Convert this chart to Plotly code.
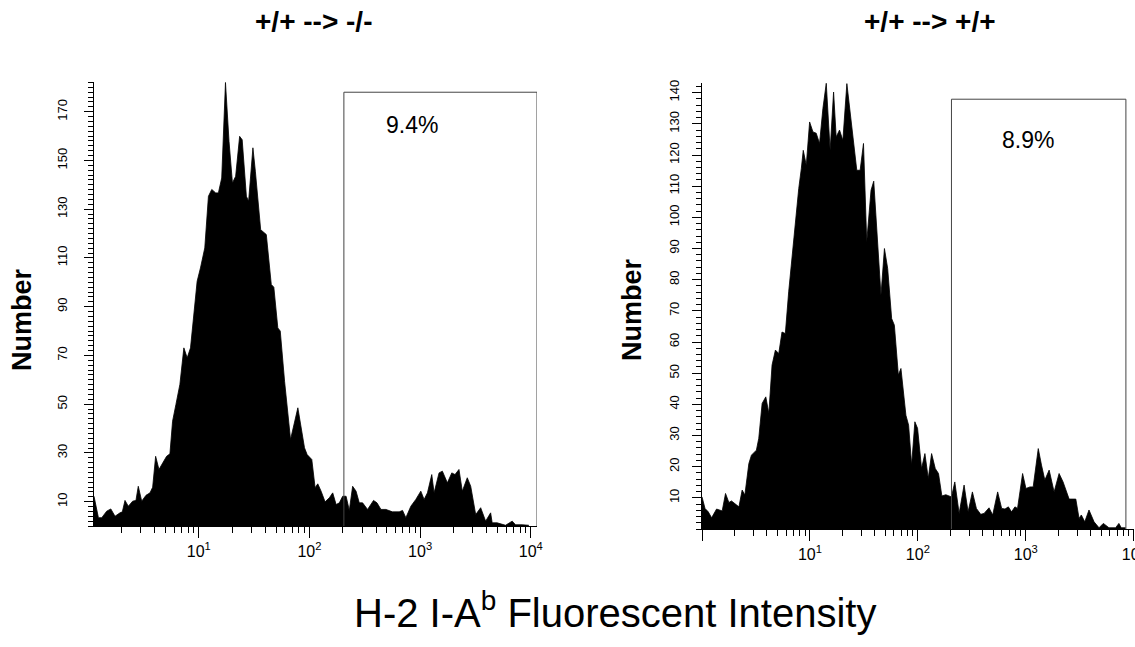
import numpy as np
import plotly.graph_objects as go

# Flow cytometry histograms: channel position (log10 of intensity) and cell count
left_log_intensity = [
    0.053, 0.093, 0.123, 0.168, 0.205, 0.243, 0.288, 0.309, 0.333, 0.363,
    0.403, 0.432, 0.453, 0.484, 0.523, 0.559, 0.583, 0.610, 0.640, 0.678,
    0.709, 0.739, 0.763, 0.793, 0.829, 0.865, 0.895, 0.925, 0.955, 0.985,
    1.015, 1.054, 1.087, 1.117, 1.153, 1.177, 1.207, 1.241, 1.273, 1.304,
    1.333, 1.369, 1.392, 1.430, 1.450, 1.489, 1.511, 1.559, 1.610, 1.655,
    1.678, 1.714, 1.736, 1.775, 1.829, 1.895, 1.955, 1.979, 2.021, 2.051,
    2.075, 2.105, 2.141, 2.180, 2.210, 2.241, 2.270, 2.300, 2.331, 2.360,
    2.390, 2.421, 2.450, 2.480, 2.525, 2.579, 2.610, 2.646, 2.691, 2.750,
    2.811, 2.841, 2.871, 2.916, 2.961, 3.006, 3.036, 3.066, 3.105, 3.126,
    3.171, 3.201, 3.246, 3.286, 3.315, 3.351, 3.381, 3.426, 3.457, 3.502,
    3.547, 3.592, 3.637, 3.651, 3.696, 3.772, 3.832, 3.862, 3.922, 3.982,
]
left_counts = [
    12.2, 3.4, 3.4, 6.1, 7.0, 4.0, 5.4, 5.8, 10.5, 8.1,
    10.2, 10.5, 16.3, 10.2, 12.6, 13.6, 15.9, 28.6, 23.2, 25.9,
    28.6, 29.6, 43.0, 49.8, 58.1, 73.1, 69.0, 73.1, 86.8, 100.4,
    105.9, 114.1, 135.3, 138.1, 136.7, 136.7, 142.8, 182.0, 157.9, 140.8,
    143.5, 159.9, 158.5, 135.3, 133.3, 155.2, 145.6, 121.6, 119.6, 99.1,
    98.0, 81.3, 80.0, 59.4, 35.5, 48.5, 32.1, 29.3, 27.3, 15.7,
    17.3, 14.3, 9.9, 11.6, 13.6, 8.8, 9.5, 12.2, 12.2, 6.4,
    16.3, 14.3, 9.5, 9.5, 6.8, 10.5, 9.5, 6.8, 6.8, 5.8,
    5.8, 6.4, 3.4, 8.1, 10.9, 14.3, 10.9, 13.6, 21.1, 13.6,
    21.8, 22.5, 17.7, 21.8, 21.1, 23.2, 14.3, 19.8, 16.3, 4.7,
    7.5, 2.0, 5.4, 1.3, 1.3, 0.3, 2.0, 0.5, 0.5, 0.3,
]

right_log_intensity = [
    0.000, 0.028, 0.058, 0.089, 0.135, 0.166, 0.187, 0.218, 0.249, 0.273,
    0.305, 0.342, 0.372, 0.397, 0.434, 0.458, 0.504, 0.526, 0.557, 0.591,
    0.619, 0.649, 0.680, 0.711, 0.741, 0.772, 0.803, 0.834, 0.864, 0.896,
    0.920, 0.938, 0.966, 0.997, 1.028, 1.058, 1.089, 1.120, 1.151, 1.187,
    1.219, 1.243, 1.274, 1.305, 1.342, 1.397, 1.434, 1.465, 1.496, 1.526,
    1.566, 1.591, 1.658, 1.690, 1.720, 1.757, 1.782, 1.819, 1.843, 1.889,
    1.914, 1.942, 1.972, 1.997, 2.034, 2.065, 2.096, 2.127, 2.161, 2.191,
    2.222, 2.259, 2.290, 2.311, 2.342, 2.382, 2.428, 2.465, 2.505, 2.542,
    2.582, 2.613, 2.659, 2.693, 2.739, 2.776, 2.807, 2.838, 2.868, 2.899,
    2.923, 2.970, 3.001, 3.038, 3.068, 3.115, 3.145, 3.176, 3.216, 3.262,
    3.308, 3.345, 3.401, 3.463, 3.493, 3.514, 3.546, 3.585, 3.632, 3.678,
    3.718, 3.770, 3.832, 3.862, 3.884, 3.924,
]
right_counts = [
    10.3, 6.6, 5.5, 3.6, 6.4, 6.1, 5.8, 11.4, 8.5, 9.0,
    8.2, 7.1, 12.5, 10.9, 21.0, 23.7, 25.3, 29.1, 40.3, 42.4,
    37.1, 52.6, 57.4, 56.3, 63.2, 62.7, 76.1, 87.8, 97.5, 109.2,
    115.6, 121.5, 116.7, 130.6, 127.4, 127.0, 123.7, 134.9, 143.0, 121.5,
    140.2, 125.8, 128.0, 124.7, 142.9, 126.3, 115.1, 115.1, 123.7, 92.1,
    108.7, 111.6, 75.0, 90.0, 83.6, 67.5, 65.4, 49.4, 51.5, 36.5,
    33.3, 20.5, 34.4, 32.3, 19.4, 24.2, 16.2, 24.2, 19.4, 17.8,
    10.6, 11.0, 10.6, 10.3, 15.1, 5.0, 14.1, 5.5, 11.9, 6.6,
    4.7, 5.0, 6.8, 4.5, 11.9, 6.6, 6.4, 7.1, 5.5, 7.1,
    6.6, 17.8, 13.0, 13.5, 13.5, 25.8, 20.5, 15.7, 18.9, 11.9,
    17.8, 15.1, 9.6, 9.6, 3.4, 4.5, 2.3, 6.1, 2.3, 0.4,
    1.8, 0.4, 0.4, 1.8, 0.4, 0.4,
]

panel_titles = ["+/+ --> -/-", "+/+ --> +/+"]
gate_labels = ["9.4%", "8.9%"]
# gate: start/end of marker (log10 intensity) and its top in counts
left_gate = [2.311, 4.056, 178.0]
right_gate = [2.311, 3.927, 137.9]

left_yticks = [10, 30, 50, 70, 90, 110, 130, 150, 170]
right_yticks = [10, 20, 30, 40, 50, 60, 70, 80, 90, 100, 110, 120, 130, 140]
x_tickvals = [1, 10, 100, 1000, 10000]
x_ticktext = ["", "10<sup>1</sup>", "10<sup>2</sup>", "10<sup>3</sup>", "10<sup>4</sup>"]

W, H = 1135, 647
FONT = "Liberation Sans, Arial, sans-serif"

fig = go.Figure()

panels = [
    (left_log_intensity, left_counts, left_gate, "x", "y"),
    (right_log_intensity, right_counts, right_gate, "x2", "y2"),
]
for lx, counts, gate, xa, ya in panels:
    fig.add_trace(go.Scatter(
        x=10 ** np.array(lx), y=counts, mode="lines", fill="tozeroy",
        fillcolor="black", line=dict(color="black", width=0.8),
        xaxis=xa, yaxis=ya, showlegend=False, hoverinfo="skip",
    ))
    g0, g1, gtop = 10 ** gate[0], 10 ** gate[1], gate[2]
    fig.add_trace(go.Scatter(
        x=[g0, g0, g1, g1], y=[0, gtop, gtop, 0], mode="lines",
        line=dict(color="#444444", width=1),
        xaxis=xa, yaxis=ya, showlegend=False, hoverinfo="skip",
        cliponaxis=False,
    ))

minor_x = [m * 10 ** d for d in range(0, 4) for m in range(2, 10)]

xcommon = dict(
    type="log", showgrid=False, zeroline=False, showline=True,
    linecolor="black", linewidth=1, ticks="outside", ticklen=11,
    tickcolor="black", tickwidth=1, automargin=False,
    ticklabeloverflow="allow",
    tickvals=x_tickvals, ticktext=x_ticktext,
    tickfont=dict(family=FONT, size=16, color="black"),
    minor=dict(tickvals=minor_x, ticks="outside", ticklen=6,
               tickcolor="black", tickwidth=1),
)
ycommon = dict(
    showgrid=False, zeroline=False, showline=True, linecolor="black",
    linewidth=1, ticks="outside", ticklen=9, tickcolor="black", tickwidth=1,
    automargin=False, tickangle=-90,
    tickfont=dict(family=FONT, size=13, color="black"),
    minor=dict(dtick=2, ticks="outside", ticklen=5, tickcolor="black",
               tickwidth=1),
)

fig.update_layout(
    width=W, height=H,
    margin=dict(l=0, r=0, t=0, b=0),
    paper_bgcolor="white", plot_bgcolor="white",
    font=dict(family=FONT, color="black"),
    xaxis=dict(xcommon, domain=[94 / W, 537 / W], range=[0.053, 4.056],
               anchor="y"),
    yaxis=dict(ycommon, domain=[1 - 526 / H, 1 - 82 / H], range=[0, 182.2],
               tickvals=left_yticks, anchor="x", ticklabelstandoff=12),
    xaxis2=dict(xcommon, domain=[702 / W, 1134 / W], range=[0, 4.002],
                anchor="y2"),
    yaxis2=dict(ycommon, domain=[1 - 529 / H, 1 - 83 / H], range=[0, 143.1],
                tickvals=right_yticks, anchor="x2", ticklabelstandoff=8),
)

annotations = [
    dict(text=panel_titles[0], x=313 / W, y=1 - 22 / H),
    dict(text=panel_titles[1], x=930 / W, y=1 - 22 / H),
]
for a in annotations:
    a.update(xref="paper", yref="paper", showarrow=False,
             font=dict(family=FONT, size=28, color="black"),
             xanchor="center", yanchor="middle")
    a["text"] = "<b>" + a["text"] + "</b>"

for xpos, ypos in [(22 / W, 1 - 320 / H), (632 / W, 1 - 310 / H)]:
    annotations.append(dict(
        text="<b>Number</b>", x=xpos, y=ypos, xref="paper", yref="paper",
        showarrow=False, textangle=-90, xanchor="center", yanchor="middle",
        font=dict(family=FONT, size=27, color="black"),
    ))

for label, xpos, ypos in [(gate_labels[0], 412 / W, 1 - 125 / H),
                          (gate_labels[1], 1028 / W, 1 - 140 / H)]:
    annotations.append(dict(
        text=label, x=xpos, y=ypos, xref="paper", yref="paper",
        showarrow=False, xanchor="center", yanchor="middle",
        font=dict(family=FONT, size=23, color="black"),
    ))

annotations.append(dict(
    text="H-2 I-A<sup>b</sup> Fluorescent Intensity", x=615 / W,
    y=1 - 610 / H, xref="paper", yref="paper", showarrow=False,
    xanchor="center", yanchor="middle",
    font=dict(family=FONT, size=40, color="black"),
))

fig.update_layout(annotations=annotations)

# drop the browser's default page margin so the figure fills the window
fig.write_html("out.html", config={"displayModeBar": False},
               post_script="document.body.style.margin='0px';")
